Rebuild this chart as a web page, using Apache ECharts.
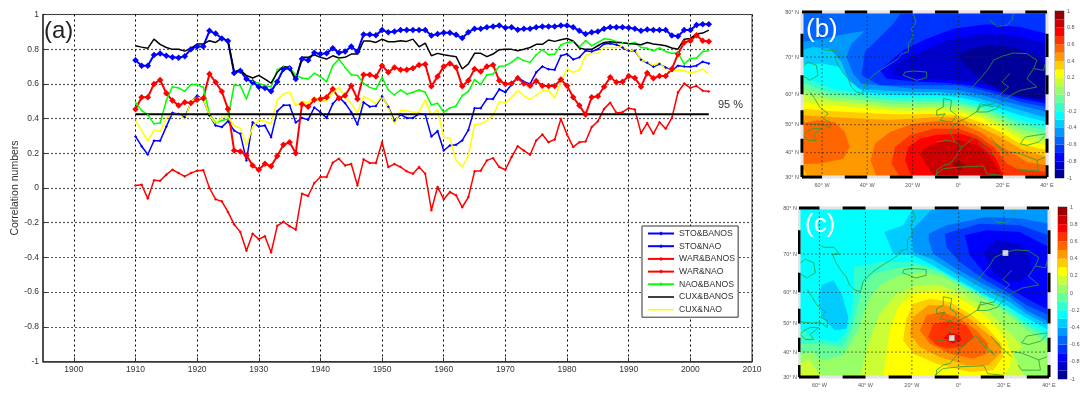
<!DOCTYPE html>
<html>
<head>
<meta charset="utf-8">
<title>Correlation numbers</title>
<script src="https://cdn.jsdelivr.net/npm/echarts@6/dist/echarts.min.js"></script>
<style>
  html, body { margin: 0; padding: 0; background: #fff; }
  #main { width: 1086px; height: 394px; }
</style>
</head>
<body>
<div id="main"></div>
<script>
// panel (a): one value per year, 1910-2003
const firstYear = 1910
const stoBanos = [
  .737,.705,.705,.766,.775,.762,.753,.751,.76,.80,
  .816,.816,.906,.89,.862,.847,.663,.676,.628,.61,
  .584,.577,.557,.613,.686,.69,.628,.743,.737,.78,
  .772,.776,.805,.78,.787,.816,.785,.885,.885,.881,
  .91,.898,.902,.91,.91,.91,.91,.91,.879,.887,
  .895,.895,.883,.864,.898,.918,.918,.927,.931,.937,
  .923,.927,.912,.918,.918,.927,.931,.931,.931,.937,
  .937,.927,.906,.887,.898,.902,.918,.927,.927,.927,
  .923,.918,.906,.914,.91,.91,.91,.879,.875,.91,
  .91,.939,.944,.944]
const stoNao = [
  .297,.241,.193,.272,.272,.354,.433,.427,.408,.494,
  .533,.51,.418,.36,.351,.385,.331,.312,.159,.379,
  .354,.36,.293,.443,.477,.477,.377,.404,.393,.464,
  .437,.404,.485,.523,.489,.437,.366,.494,.469,.473,
  .529,.469,.389,.423,.404,.404,.427,.423,.297,.328,
  .216,.245,.249,.274,.335,.46,.46,.513,.513,.569,
  .552,.596,.638,.613,.60,.667,.701,.684,.682,.762,
  .772,.741,.753,.791,.787,.80,.83,.833,.826,.81,
  .791,.791,.739,.722,.699,.715,.695,.676,.705,.701,
  .699,.705,.728,.718]
const warBanos = [
  .454,.523,.523,.60,.623,.546,.504,.475,.494,.49,
  .508,.517,.657,.609,.556,.456,.216,.211,.188,.13,
  .105,.14,.126,.184,.249,.264,.20,.483,.469,.508,
  .513,.523,.571,.517,.533,.59,.513,.653,.653,.642,
  .705,.667,.695,.682,.682,.69,.709,.713,.586,.642,
  .701,.718,.695,.586,.619,.686,.672,.701,.709,.619,
  .60,.603,.634,.603,.59,.617,.59,.588,.588,.625,
  .59,.523,.475,.423,.523,.529,.584,.638,.609,.613,
  .646,.634,.584,.663,.632,.646,.646,.686,.772,.839,
  .849,.881,.849,.845]
const warNao = [
  .015,.019,-.061,.044,.042,.077,.105,.086,.067,.086,
  .10,.103,0,-.065,-.077,-.138,-.21,-.253,-.362,-.264,
  -.295,-.278,-.372,-.218,-.195,-.22,-.24,-.033,-.046,.029,
  .063,.063,.146,.169,.13,.138,.015,.165,.144,.144,
  .264,.121,.138,.121,.096,.082,.121,.082,-.128,.006,
  -.065,-.023,-.042,-.111,-.052,.096,.10,.159,.172,.121,
  .105,.178,.241,.216,.192,.274,.308,.264,.28,.398,
  .308,.236,.264,.268,.351,.385,.456,.492,.433,.437,
  .46,.452,.316,.374,.312,.379,.341,.404,.552,.602,
  .577,.588,.561,.556]
const naoBanos = [
  .494,.446,.423,.37,.375,.504,.584,.577,.557,.596,
  .596,.58,.427,.375,.389,.398,.594,.59,.513,.615,
  .603,.59,.584,.682,.70,.695,.648,.634,.628,.661,
  .642,.613,.705,.743,.695,.653,.648,.603,.58,.569,
  .638,.565,.536,.565,.542,.552,.565,.552,.479,.489,
  .437,.462,.473,.533,.557,.625,.596,.653,.657,.701,
  .705,.724,.753,.734,.724,.768,.797,.768,.772,.824,
  .839,.845,.814,.849,.82,.839,.86,.856,.845,.839,
  .83,.839,.81,.805,.791,.807,.787,.776,.778,.715,
  .747,.749,.787,.791]
const cuxBanos = [
  .82,.812,.805,.858,.828,.81,.799,.80,.789,.805,
  .83,.83,.849,.839,.864,.849,.67,.68,.648,.634,
  .649,.628,.605,.667,.70,.695,.619,.753,.753,.768,
  .753,.743,.762,.749,.753,.772,.772,.847,.847,.839,
  .858,.843,.843,.849,.845,.858,.814,.835,.762,.776,
  .768,.762,.757,.686,.715,.776,.776,.757,.772,.797,
  .799,.799,.791,.80,.81,.828,.828,.853,.845,.854,
  .862,.847,.807,.799,.799,.82,.839,.843,.839,.837,
  .833,.83,.826,.839,.83,.826,.82,.807,.80,.858,
  .862,.887,.893,.91]
const cuxNao = [
  .389,.331,.27,.335,.326,.404,.427,.431,.395,.498,
  .523,.513,.418,.37,.408,.408,.36,.345,.245,.351,
  .393,.385,.37,.508,.542,.552,.475,.498,.49,.523,
  .498,.504,.548,.58,.527,.485,.433,.527,.51,.485,
  .533,.466,.37,.446,.446,.437,.437,.508,.418,.45,
  .289,.289,.159,.121,.188,.366,.37,.389,.418,.498,
  .49,.523,.561,.533,.51,.536,.561,.561,.519,.609,
  .686,.667,.68,.762,.776,.778,.81,.81,.81,.816,
  .791,.797,.737,.728,.705,.722,.686,.676,.68,.676,
  .663,.672,.686,.657]
const signif95 = .425
const yearTicks = [1900,1910,1920,1930,1940,1950,1960,1970,1980,1990,2000,2010]

// maps: contour colour per 0.1 band, -1 to 1
const bandEdges = [-1,-.9,-.8,-.7,-.6,-.5,-.4,-.3,-.2,-.1,0,.1,.2,.3,.4,.5,.6,.7,.8,.9,1]
const bandColors = ['#000099','#0000cc','#0000ff','#0033ff','#0066ff','#0099ff','#00ccff','#00ffff','#33ffcc','#66ff99',
  '#99ff66','#ccff33','#ffff00','#ffcc00','#ff9900','#ff6600','#ff3300','#ff0000','#cc0000','#990000']
const barTicks = [-1,-.8,-.6,-.4,-.2,0,.2,.4,.6,.8,1]

// projected grid units of the map (easting, northing down)
const lonTicks = [127,262,398,535,668,800]
const lonNames = ['60° W','40° W','20° W','0°','20° E','40° E']
const latTicks = [35,170,282,373,457,530]
const latNames = ['80° N','70° N','60° N','50° N','40° N','30° N']
const boxLon = [67,127,195,262,330,398,465,535,600,668,735,800]
const boxLat = [35,100,170,225,282,330,373,415,457,495,530]

// [band low edge, ring], painted in order over the background band
const top_b = [[800,35],[67,35]]
const contoursB = [
  [.3,[[67,345],[150,350],[250,355],[330,358],[400,355],[470,350],[535,352],[600,380],[660,410],[720,445],[800,470],...top_b]],
  [.2,[[67,325],[150,332],[250,337],[330,342],[400,342],[470,340],[535,345],[600,365],[660,395],[720,430],[800,450],...top_b]],
  [.1,[[67,305],[150,315],[250,322],[330,330],[400,332],[470,330],[535,335],[600,350],[660,380],[720,415],[800,435],...top_b]],
  [0,[[67,285],[150,300],[250,310],[330,320],[400,322],[470,320],[535,325],[600,340],[660,367],[720,400],[800,420],...top_b]],
  [-.1,[[67,265],[150,290],[250,300],[330,310],[400,312],[470,312],[535,316],[600,330],[660,355],[720,385],[800,405],...top_b]],
  [-.2,[[67,247],[150,277],[250,290],[330,300],[400,302],[470,302],[535,307],[600,322],[660,345],[720,372],[800,392],...top_b]],
  [-.3,[[67,228],[150,262],[250,282],[330,290],[400,293],[470,293],[535,298],[600,313],[660,335],[720,358],[800,380],...top_b]],
  [-.4,[[67,190],[130,190],[180,200],[210,245],[250,275],[330,283],[400,285],[470,285],[535,290],[600,305],[660,325],[720,345],[800,365],...top_b]],
  [-.5,[[67,150],[100,140],[150,145],[185,185],[205,235],[240,265],[330,272],[400,275],[470,275],[535,280],[600,295],[660,312],[720,330],[800,352],...top_b]],
  [-.6,[[67,125],[130,115],[200,100],[255,92],[215,130],[200,170],[220,220],[245,250],[330,258],[400,265],[470,267],[535,270],[600,282],[660,300],[720,315],[800,335],...top_b]],
  [-.7,[[365,35],[340,70],[300,110],[255,155],[245,225],[300,255],[400,255],[535,255],[600,268],[660,285],[720,305],[800,320],[800,35]]],
  [-.8,[[800,100],[720,80],[620,72],[520,85],[440,115],[370,150],[300,210],[320,235],[400,243],[500,248],[570,255],[640,272],[720,295],[800,310]]],
  [-.9,[[800,130],[700,105],[600,100],[500,120],[420,155],[340,195],[340,225],[420,235],[510,238],[580,245],[650,265],[730,290],[800,305]]],
  [-1,[[530,167],[570,145],[620,135],[700,140],[760,165],[800,195],[800,295],[760,295],[680,280],[620,250],[570,210]]],
  [.3,[[67,495],[85,530],[67,530]]],
  [.5,[[67,370],[110,360],[165,365],[195,395],[210,440],[190,475],[120,490],[67,490]]],
  [.5,[[272,480],[285,430],[330,395],[400,370],[470,362],[535,368],[600,395],[650,430],[690,455],[740,485],[800,495],[800,530],[290,530]]],
  [.6,[[335,490],[345,440],[390,405],[460,385],[535,385],[590,405],[640,440],[680,490],[710,505],[800,515],[800,530],[360,530]]],
  [.7,[[375,480],[385,440],[420,415],[470,403],[540,400],[590,415],[630,445],[655,490],[670,530],[395,530]]],
  [.8,[[420,460],[440,440],[480,425],[540,420],[590,435],[625,465],[650,500],[665,530],[465,530],[440,495]]],
  [.9,[[515,490],[535,480],[555,492],[540,512]]]
]

const top_c = [[808,33],[60,33]]
const contoursC = [
  [-.1,[[60,475],[90,462],[130,490],[190,475],[235,400],[265,310],[300,265],[360,235],[425,225],[490,240],[560,280],[640,320],[700,365],[740,400],[808,440],...top_c]],
  [-.2,[[60,440],[120,440],[190,450],[215,400],[235,320],[250,260],[280,230],[340,215],[420,205],[480,225],[550,265],[625,305],[695,350],[740,385],[808,425],...top_c]],
  [-.3,[[60,395],[110,425],[170,435],[200,405],[215,340],[222,270],[222,210],[300,195],[400,195],[470,215],[540,255],[610,295],[690,335],[740,375],[808,410],...top_c]],
  [-.4,[[125,265],[160,250],[185,290],[205,360],[200,395],[165,400],[125,360],[115,300]]],
  [-.4,[[400,33],[370,85],[313,105],[340,170],[400,175],[450,200],[520,240],[600,285],[680,325],[735,360],[808,400],[808,33]]],
  [-.5,[[460,33],[420,75],[395,100],[400,165],[455,185],[530,230],[610,275],[690,315],[740,350],[808,385],[808,40]]],
  [-.6,[[447,110],[500,85],[620,60],[730,65],[808,80],[808,375],[740,340],[690,300],[610,260],[530,215],[460,170],[447,130]]],
  [-.7,[[495,110],[600,80],[720,85],[808,115],[808,355],[740,325],[690,290],[610,245],[540,195],[500,150]]],
  [-.8,[[555,115],[620,100],[720,105],[808,150],[808,340],[750,310],[690,275],[620,235],[570,175]]],
  [-.9,[[610,165],[650,130],[720,140],[750,180],[755,220],[720,255],[680,255],[640,225]]],
  [.1,[[60,500],[85,485],[125,540],[60,540]]],
  [.1,[[240,540],[265,440],[300,350],[345,295],[410,265],[480,265],[550,290],[620,335],[670,385],[710,430],[730,450],[700,470],[735,540]]],
  [.2,[[310,540],[330,400],[355,330],[400,290],[470,280],[530,300],[590,335],[640,380],[680,430],[695,470],[690,510],[670,540]]],
  [.3,[[370,430],[378,370],[400,320],[450,305],[510,315],[570,350],[620,390],[665,440],[670,480],[640,520],[570,525],[470,500],[400,470]]],
  [.4,[[390,410],[400,360],[445,325],[500,325],[550,350],[610,400],[660,440],[665,465],[625,505],[560,505],[480,480],[420,450]]],
  [.5,[[420,400],[440,355],[490,345],[540,365],[590,400],[625,440],[620,470],[580,485],[510,470],[450,440]]],
  [.6,[[445,420],[460,380],[510,372],[560,385],[582,420],[550,450],[500,455],[470,445]]],
  [.7,[[490,425],[510,405],[540,415],[545,430],[520,440]]]
]
const pointsC = [[677,168],[516,423]]

// rough coast outlines, same grid units as the graticule
const coastLines = [
  [[400,40],[408,65],[395,85],[400,110],[385,130],[385,155],[365,160],[355,175],[335,188],[300,210],[280,225],[255,250],[248,280],[230,275],[215,260],[205,235],[195,225],[175,195],[165,170],[185,170],[170,150],[140,150],[130,145]],
  [[67,200],[85,185],[110,195],[115,225],[90,240],[72,228]],
  [[92,275],[105,295],[120,320],[145,340],[130,355],[150,365],[150,385],[130,370],[105,372],[70,368]],
  [[80,395],[100,385],[125,385],[100,405],[110,420],[85,420],[70,405],[80,395]],
  [[375,215],[400,212],[440,215],[440,232],[410,240],[385,230],[370,225],[375,215]],
  [[490,295],[515,300],[510,330],[530,345],[515,365],[480,360],[495,340],[470,345],[470,330],[490,320],[490,295]],
  [[575,262],[600,235],[625,205],[640,180],[665,168],[700,158],[740,160],[770,180],[760,205],[790,210],[795,190]],
  [[690,218],[665,245],[685,260],[650,290],[640,310],[595,320],[590,335],[620,335],[650,325],[665,305],[690,285],[720,270],[745,265],[770,260],[740,235],[760,205]],
  [[630,60],[650,78],[680,75],[695,60],[700,40]],
  [[535,365],[565,350],[595,330],[600,310],[640,320]],
  [[470,425],[500,420],[525,425],[545,440],[530,465],[510,490],[490,495],[470,510],[470,525]],
  [[525,425],[510,395],[520,375],[535,365]],
  [[545,440],[585,410],[610,430],[640,465],[620,450],[595,425]],
  [[630,410],[660,445],[690,470]],
  [[720,430],[735,410],[765,405],[800,400],[775,425],[740,435],[720,430]],
  [[690,455],[720,460],[770,480],[795,470]],
  [[770,480],[775,510],[720,510],[710,495]],
  [[465,525],[490,505],[540,500],[610,497],[620,520],[665,525]]
]

const legendNames = ['STO&BANOS','STO&NAO','WAR&BANOS','WAR&NAO','NAO&BANOS','CUX&BANOS','CUX&NAO']
const plainLineNames = ['CUX&BANOS','CUX&NAO']
const font = '"Liberation Sans", Arial, sans-serif'

function withYears(values) {
  return values.map((v, i) => [firstYear + i, v])
}

function yearLine(name, values, color, width, symbolSize) {
  return {
    name: name, type: 'line', xAxisIndex: 0, yAxisIndex: 0,
    data: withYears(values),
    symbol: symbolSize > 0 ? 'diamond' : 'none', symbolSize: symbolSize,
    lineStyle: {color: color, width: width},
    itemStyle: {color: color},
    emphasis: {disabled: true}
  }
}

function contourSeries(list, xIdx, yIdx) {
  return {
    type: 'custom', xAxisIndex: xIdx, yAxisIndex: yIdx, clip: true, silent: true,
    data: list.map((c, i) => [i]),
    encode: {x: [], y: []},
    renderItem: (params, api) => {
      const c = list[params.dataIndex]
      return {
        type: 'polygon',
        shape: {points: c[1].map(p => api.coord(p))},
        style: {fill: bandColors[bandEdges.indexOf(c[0])], stroke: null}
      }
    }
  }
}

function brokenLine(segments, xIdx, yIdx, color, width, dash, z) {
  const data = []
  segments.forEach(s => { data.push(...s, ['-', '-']) })
  return {
    type: 'line', xAxisIndex: xIdx, yAxisIndex: yIdx, data: data, silent: true,
    showSymbol: false, clip: false, z: z,
    lineStyle: {color: color, width: width, type: dash, cap: 'butt'}
  }
}

function mapOverlay(xIdx, yIdx) {
  const x0 = boxLon[0], x1 = boxLon[boxLon.length - 1], y0 = boxLat[0], y1 = boxLat[boxLat.length - 1]
  const grat = []
  lonTicks.slice(0, 5).forEach(v => grat.push([[v, y0], [v, y1]]))
  latTicks.slice(1, 5).forEach(v => grat.push([[x0, v], [x1, v]]))
  const black = []
  boxLon.slice(0, -1).forEach((v, i) => {
    if (i % 2 == 0) {
      black.push([[v, y0], [boxLon[i + 1], y0]])
      black.push([[v, y1], [boxLon[i + 1], y1]])
    }
  })
  boxLat.slice(0, -1).forEach((v, i) => {
    if (i % 2 == 1) {
      black.push([[x0, v], [x0, boxLat[i + 1]]])
      black.push([[x1, v], [x1, boxLat[i + 1]]])
    }
  })
  const frame = [[[x0, y0], [x1, y0], [x1, y1], [x0, y1], [x0, y0]]]
  return [
    Object.assign(brokenLine(coastLines, xIdx, yIdx, '#2a9d3a', 0.8, 'solid', 3), {clip: true}),
    brokenLine(grat, xIdx, yIdx, '#222', 0.6, [2, 2], 4),
    brokenLine(frame, xIdx, yIdx, '#e4e4e4', 3, 'solid', 5),
    brokenLine(black, xIdx, yIdx, '#000', 3, 'solid', 6)
  ]
}

function colorBar(xIdx, yIdx) {
  return {
    type: 'custom', xAxisIndex: xIdx, yAxisIndex: yIdx, silent: true,
    data: bandColors.map((c, i) => [i]),
    encode: {x: [], y: []},
    renderItem: (params, api) => {
      const i = params.dataIndex
      const a = api.coord([0, bandEdges[i + 1]])
      const b = api.coord([1, bandEdges[i]])
      return {type: 'rect', shape: {x: a[0], y: a[1], width: b[0] - a[0], height: b[1] - a[1]},
        style: {fill: bandColors[i]}}
    }
  }
}

function mapAxisX(grid, min, max) {
  return {
    type: 'value', gridIndex: grid, min: min, max: max,
    splitLine: {show: false}, axisLine: {show: false},
    axisTick: {show: false},
    axisLabel: {
      customValues: lonTicks, fontSize: 5.5, color: '#555', margin: 5, fontFamily: font,
      formatter: v => lonNames[lonTicks.indexOf(v)]
    }
  }
}

function mapAxisY(grid, min, max) {
  return {
    type: 'value', gridIndex: grid, min: min, max: max, inverse: true,
    splitLine: {show: false}, axisLine: {show: false},
    axisTick: {show: false},
    axisLabel: {
      customValues: latTicks, fontSize: 5.5, color: '#555', margin: 3, fontFamily: font,
      formatter: v => latNames[latTicks.indexOf(v)]
    }
  }
}

function hiddenAxis(grid, min, max, inverse) {
  return {type: 'value', gridIndex: grid, min: min, max: max, inverse: !!inverse, show: false}
}

function barAxisY(grid) {
  return {
    type: 'value', gridIndex: grid, min: -1, max: 1, position: 'right',
    splitLine: {show: false},
    axisLine: {show: true, lineStyle: {color: '#444', width: 0.6}},
    axisTick: {show: false},
    axisLabel: {customValues: barTicks, fontSize: 5.5, color: '#555', margin: 3, fontFamily: font}
  }
}

const myChart = echarts.init(document.getElementById('main'))

const option = {
  animation: false,
  backgroundColor: '#fff',
  textStyle: {fontFamily: font},
  grid: [
    {left: 43, top: 14.5, width: 709, height: 347, show: true, borderColor: '#333', borderWidth: 1, outerBoundsMode: 'none'},
    {left: 802, top: 12, width: 245, height: 165, show: true, backgroundColor: bandColors[14], borderWidth: 0, outerBoundsMode: 'none'},
    {left: 1055, top: 11, width: 9, height: 167, show: true, borderColor: '#444', borderWidth: 0.6, outerBoundsMode: 'none'},
    {left: 800, top: 208, width: 249, height: 169, show: true, backgroundColor: bandColors[10], borderWidth: 0, outerBoundsMode: 'none'},
    {left: 1058, top: 207, width: 9, height: 172, show: true, borderColor: '#444', borderWidth: 0.6, outerBoundsMode: 'none'}
  ],
  xAxis: [
    {
      type: 'value', gridIndex: 0, min: 1895, max: 2010,
      splitLine: {show: true, lineStyle: {color: '#000', width: 1, type: [2, 3]}},
      axisLine: {onZero: false, lineStyle: {color: '#333', width: 1.5}},
      axisTick: {customValues: yearTicks, inside: true, length: 4, lineStyle: {color: '#333'}},
      axisLabel: {customValues: yearTicks, fontSize: 8.5, color: '#333', margin: 4, fontFamily: font, formatter: v => String(v)}
    },
    mapAxisX(1, 67, 800),
    hiddenAxis(2, 0, 1),
    mapAxisX(3, 70, 800),
    hiddenAxis(3, 60, 808),
    hiddenAxis(4, 0, 1)
  ],
  yAxis: [
    {
      type: 'value', gridIndex: 0, min: -1, max: 1, interval: .2,
      name: 'Correlation numbers', nameLocation: 'middle', nameGap: 22, nameMoveOverlap: false,
      nameTextStyle: {fontSize: 10.5, color: '#333', fontFamily: font},
      splitLine: {show: true, lineStyle: {color: '#555', width: 1.2, type: [2, 2]}},
      axisLine: {show: true, onZero: false, lineStyle: {color: '#333', width: 1.5}},
      axisTick: {inside: true, length: 4, lineStyle: {color: '#333'}},
      axisLabel: {fontSize: 8.5, color: '#333', margin: 4, fontFamily: font}
    },
    mapAxisY(1, 35, 530),
    barAxisY(2),
    mapAxisY(3, 35, 530),
    hiddenAxis(3, 33, 540, true),
    barAxisY(4)
  ],
  legend: {
    data: legendNames.map(n => plainLineNames.includes(n) ? {name: n, icon: 'path://M0,0H260V15H0Z'} : {name: n}),
    orient: 'vertical', left: 642, top: 226,
    backgroundColor: '#fff', borderColor: '#333', borderWidth: 1,
    padding: [3, 3, 3, 5], itemWidth: 26, itemHeight: 5, itemGap: 3.7,
    selectedMode: false,
    textStyle: {fontSize: 8.7, lineHeight: 9, color: '#333', fontFamily: font}
  },
  graphic: [
    {type: 'text', left: 44, top: 19, z: 100, style: {text: '(a)', font: '24px ' + font, fill: '#222'}},
    {type: 'text', left: 806, top: 17, z: 100, style: {text: '(b)', font: '26px ' + font, fill: '#fff'}},
    {type: 'text', left: 805, top: 212, z: 100, style: {text: '(c)', font: '26px ' + font, fill: '#fff'}},
    {type: 'text', left: 718, top: 99, z: 100, style: {text: '95 %', font: '11px ' + font, fill: '#333'}}
  ],
  series: [
    yearLine('STO&BANOS', stoBanos, '#0000ff', 2, 6.5),
    yearLine('STO&NAO', stoNao, '#0000ff', 1.5, 3),
    yearLine('WAR&BANOS', warBanos, '#ff0000', 2, 6.5),
    yearLine('WAR&NAO', warNao, '#ff0000', 1.5, 3),
    yearLine('NAO&BANOS', naoBanos, '#00ff00', 1.5, 2),
    yearLine('CUX&BANOS', cuxBanos, '#000000', 1.5, 0),
    yearLine('CUX&NAO', cuxNao, '#ffff00', 1.5, 0),
    {
      type: 'line', xAxisIndex: 0, yAxisIndex: 0, symbol: 'none', silent: true,
      data: [[firstYear, signif95], [firstYear + stoBanos.length - 1, signif95]],
      lineStyle: {color: '#000', width: 2}
    },
    contourSeries(contoursB, 1, 1),
    ...mapOverlay(1, 1),
    colorBar(2, 2),
    contourSeries(contoursC, 4, 4),
    ...mapOverlay(3, 3),
    {
      type: 'scatter', xAxisIndex: 4, yAxisIndex: 4, data: pointsC, symbol: 'rect', symbolSize: 6, z: 7,
      silent: true, itemStyle: {color: '#fff', borderColor: '#222', borderWidth: 0.4}
    },
    colorBar(5, 5)
  ]
}

myChart.setOption(option)
window.addEventListener('resize', () => { myChart.resize() })
</script>
</body>
</html>
